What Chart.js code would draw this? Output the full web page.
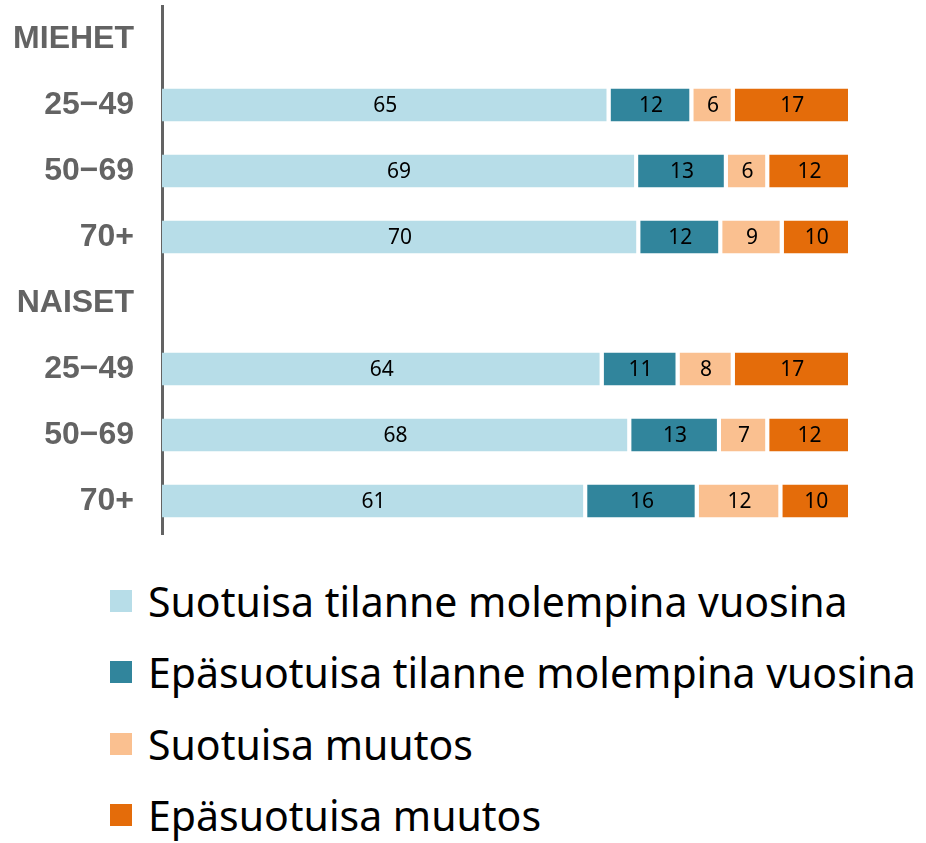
<!DOCTYPE html>
<html>
<head>
<meta charset="utf-8">
<script src="https://cdn.jsdelivr.net/npm/chart.js@4.4.1/dist/chart.umd.min.js"></script>
<style>
  body { margin: 0; background: #fff; }
  #wrap { position: relative; width: 926px; height: 843px; }
  #chart-box { position: absolute; left: 0; top: 0; width: 926px; height: 545px; }
  #legend { position: absolute; left: 110px; top: 565px; font-family: "Noto Sans", sans-serif; font-size: 41px; color: #000; white-space: nowrap; }
  .item { display: flex; align-items: center; height: 71.5px; }
  .swatch { width: 22px; height: 22px; margin-right: 16px; flex: none; }
</style>
</head>
<body>
<div id="wrap">
  <div id="chart-box"><canvas id="bar-chart"></canvas></div>
  <div id="legend"></div>
</div>
<script>
// Categories (group headers have no bars)
const categories = ["MIEHET", "25\u221249", "50\u221269", "70+", "NAISET", "25\u221249", "50\u221269", "70+"];

// Series values, percent (as printed on the bars)
const seriesNames = [
    "Suotuisa tilanne molempina vuosina",
    "Ep\u00e4suotuisa tilanne molempina vuosina",
    "Suotuisa muutos",
    "Ep\u00e4suotuisa muutos",
];
const favourableBoth = [null, 65, 69, 70, null, 64, 68, 61];
const unfavourableBoth = [null, 12, 13, 12, null, 11, 13, 16];
const favourableChange = [null, 6, 6, 9, null, 8, 7, 12];
const unfavourableChange = [null, 17, 12, 10, null, 17, 12, 10];

const seriesColors = ["#B7DDE8", "#31859C", "#FAC090", "#E46C0A"];
const greyText = "#636363";

const seriesData = [favourableBoth, unfavourableBoth, favourableChange, unfavourableChange];

// 100 % stacked: bar lengths are shares of the row total (rounded values don't always sum to 100)
const rowTotals = categories.map((_, i) => seriesData.reduce((s, arr) => s + (arr[i] || 0), 0));
const shareOf = (arr) => arr.map((v, i) => (v == null ? null : (v / rowTotals[i]) * 100));

// Draw value numbers inside each segment
const valueLabels = {
    id: "valueLabels",
    afterDatasetsDraw(chart) {
        const c = chart.ctx;
        c.save();
        c.font = '21px "Noto Sans", sans-serif';
        c.fillStyle = "#000";
        c.textAlign = "center";
        c.textBaseline = "middle";
        chart.data.datasets.forEach((ds, di) => {
            chart.getDatasetMeta(di).data.forEach((bar, i) => {
                const v = seriesData[di][i];
                if (v == null) return;
                const p = bar.getCenterPoint();
                c.fillText(String(v), p.x - 1, p.y + 1);
            });
        });
        c.restore();
    },
};

const chart = new Chart(document.getElementById("bar-chart").getContext("2d"), {
    type: "bar",
    data: {
        labels: categories,
        datasets: seriesNames.map((name, k) => ({
            label: name,
            data: shareOf(seriesData[k]),
            backgroundColor: seriesColors[k],
            borderColor: "#ffffff",
            borderWidth: { left: 0, right: 4, top: 0, bottom: 0 },
            borderSkipped: false,
            barPercentage: 1,
            categoryPercentage: 0.5,
        })),
    },
    options: {
        indexAxis: "y",
        responsive: true,
        maintainAspectRatio: false,
        animation: false,
        layout: { padding: { left: 0, right: 74, top: 6, bottom: 11 } },
        plugins: {
            legend: { display: false },
            tooltip: { enabled: false },
        },
        scales: {
            x: { stacked: true, min: 0, max: 100, display: false },
            y: {
                stacked: true,
                grid: { display: false, drawTicks: false },
                border: { display: true, color: greyText, width: 3 },
                ticks: {
                    color: greyText,
                    padding: 28,
                    font: { family: '"Liberation Sans", Arial, sans-serif', size: 32, weight: "bold" },
                },
                afterFit(scale) {
                    scale.width = 162;
                    scale.paddingTop = 0;
                    scale.paddingBottom = 0;
                },
            },
        },
    },
    plugins: [valueLabels],
});

// HTML legend built from the same series
const legendEl = document.getElementById("legend");
seriesNames.forEach((name, k) => {
    const row = document.createElement("div");
    row.className = "item";
    const sw = document.createElement("span");
    sw.className = "swatch";
    sw.style.background = seriesColors[k];
    const tx = document.createElement("span");
    tx.textContent = name;
    row.appendChild(sw);
    row.appendChild(tx);
    legendEl.appendChild(row);
});
</script>
</body>
</html>
